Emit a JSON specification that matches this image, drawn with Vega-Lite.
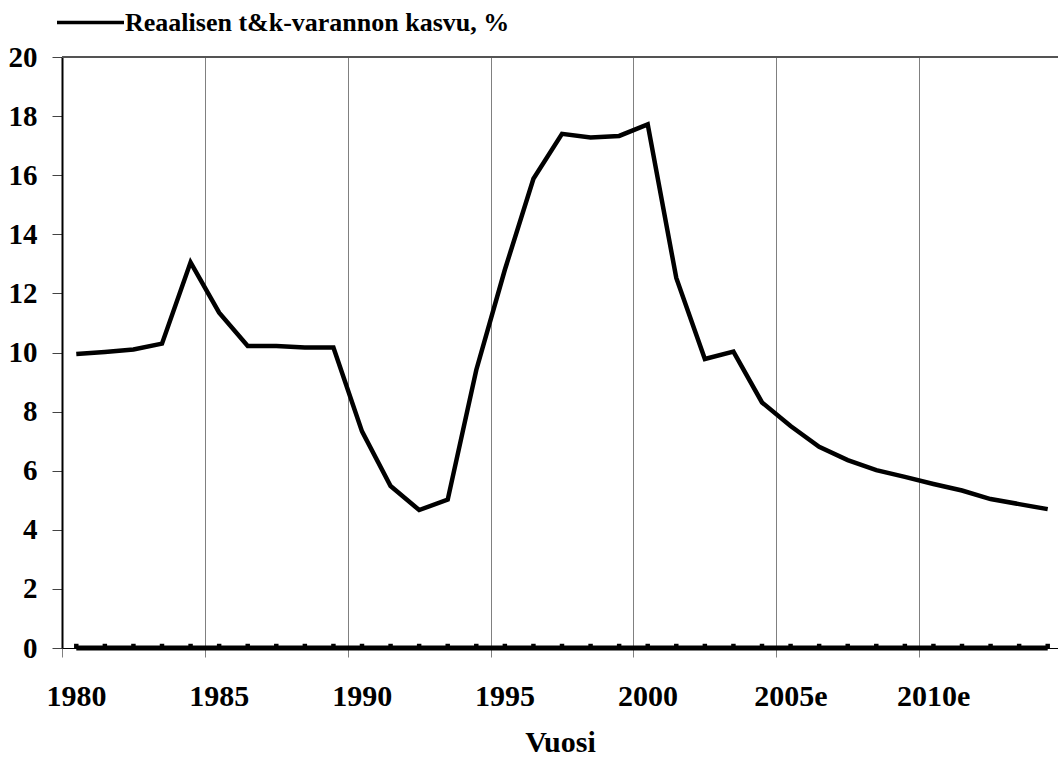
{
  "$schema": "https://vega.github.io/schema/vega-lite/v6.json",
  "autosize": "none",
  "width": 996,
  "height": 591,
  "padding": {"left": 62, "top": 57, "right": 0, "bottom": 110},
  "background": "white",
  "config": {
    "view": {"stroke": null},
    "font": "'Liberation Serif', 'Times New Roman', serif"
  },
  "datasets": {
    "main": [
      {"year": 1980, "value": 9.95},
      {"year": 1981, "value": 10.02},
      {"year": 1982, "value": 10.1},
      {"year": 1983, "value": 10.3},
      {"year": 1984, "value": 13.05},
      {"year": 1985, "value": 11.35},
      {"year": 1986, "value": 10.22},
      {"year": 1987, "value": 10.22},
      {"year": 1988, "value": 10.17},
      {"year": 1989, "value": 10.17},
      {"year": 1990, "value": 7.33},
      {"year": 1991, "value": 5.48},
      {"year": 1992, "value": 4.67},
      {"year": 1993, "value": 5.02},
      {"year": 1994, "value": 9.41},
      {"year": 1995, "value": 12.8},
      {"year": 1996, "value": 15.88},
      {"year": 1997, "value": 17.4},
      {"year": 1998, "value": 17.28},
      {"year": 1999, "value": 17.33},
      {"year": 2000, "value": 17.72},
      {"year": 2001, "value": 12.52},
      {"year": 2002, "value": 9.78},
      {"year": 2003, "value": 10.03},
      {"year": 2004, "value": 8.31},
      {"year": 2005, "value": 7.51},
      {"year": 2006, "value": 6.81},
      {"year": 2007, "value": 6.36},
      {"year": 2008, "value": 6.02},
      {"year": 2009, "value": 5.79},
      {"year": 2010, "value": 5.55},
      {"year": 2011, "value": 5.33},
      {"year": 2012, "value": 5.04},
      {"year": 2013, "value": 4.87},
      {"year": 2014, "value": 4.7}
    ]
  },
  "data": {"name": "main"},
  "layer": [
    {
      "mark": {"type": "rule", "color": "#555555", "strokeWidth": 1.5},
      "encoding": {"y": {"datum": 20, "type": "quantitative"}}
    },
    {
      "mark": {"type": "line", "color": "black", "strokeWidth": 5},
      "encoding": {
        "x": {"field": "year", "type": "quantitative"},
        "y": {"datum": 0, "type": "quantitative"}
      }
    },
    {
      "mark": {"type": "point", "shape": "square", "filled": true, "color": "black", "size": 20, "opacity": 1, "yOffset": -2},
      "encoding": {
        "x": {"field": "year", "type": "quantitative"},
        "y": {"datum": 0, "type": "quantitative"}
      }
    },
    {
      "transform": [{"calculate": "'Reaalisen t&k-varannon kasvu, %'", "as": "series"}],
      "mark": {"type": "line", "strokeWidth": 4.5, "strokeJoin": "miter"},
      "encoding": {
        "x": {
          "field": "year",
          "type": "quantitative",
          "title": "Vuosi",
          "scale": {"domain": [1979.5, 2014.36], "nice": false, "zero": false},
          "axis": {
            "values": [1979.5, 1984.5, 1989.5, 1994.5, 1999.5, 2004.5, 2009.5],
            "labelExpr": "(datum.value + 0.5) >= 2005 ? (datum.value + 0.5) + 'e' : '' + (datum.value + 0.5)",
            "labelOffset": 14,
            "labelFlush": false,
            "labelOverlap": false,
            "labelFont": "'Liberation Serif', 'Times New Roman', serif",
            "labelFontWeight": "bold",
            "labelFontSize": 30,
            "labelColor": "black",
            "labelPadding": 24,
            "tickSize": 9,
            "tickColor": "#808080",
            "tickWidth": 1,
            "grid": true,
            "gridColor": "#808080",
            "gridWidth": 1,
            "domainColor": "black",
            "domainWidth": 1,
            "titleFont": "'Liberation Serif', 'Times New Roman', serif",
            "titleFontWeight": "bold",
            "titleFontSize": 30,
            "titleColor": "black",
            "titlePadding": 16
          }
        },
        "y": {
          "field": "value",
          "type": "quantitative",
          "title": null,
          "scale": {"domain": [0, 20], "nice": false},
          "axis": {
            "values": [0, 2, 4, 6, 8, 10, 12, 14, 16, 18, 20],
            "grid": false,
            "labelFont": "'Liberation Serif', 'Times New Roman', serif",
            "labelFontWeight": "bold",
            "labelFontSize": 29,
            "labelColor": "black",
            "labelPadding": 15,
            "tickSize": 10,
            "tickColor": "#444444",
            "tickWidth": 1,
            "domainColor": "black",
            "domainWidth": 2
          }
        },
        "color": {
          "field": "series",
          "type": "nominal",
          "scale": {"range": ["black"]},
          "legend": {
            "title": null,
            "orient": "none",
            "legendX": -7,
            "legendY": -70,
            "padding": 0,
            "symbolType": "stroke",
            "symbolSize": 4489,
            "symbolStrokeWidth": 3.5,
            "symbolStrokeColor": "black",
            "labelFont": "'Liberation Serif', 'Times New Roman', serif",
            "labelFontWeight": "bold",
            "labelFontSize": 26,
            "labelColor": "black",
            "labelOffset": -1,
            "labelLimit": 0
          }
        }
      }
    }
  ]
}
